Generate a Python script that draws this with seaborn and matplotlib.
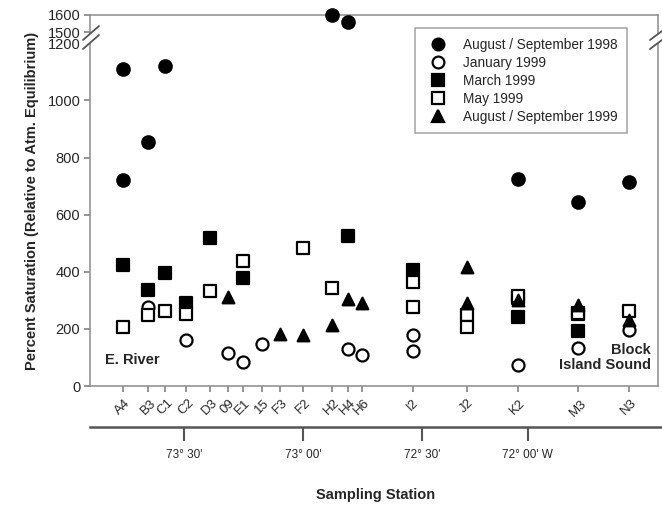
import numpy as np
import pandas as pd
import seaborn as sns
import matplotlib.pyplot as plt
from matplotlib.lines import Line2D
from matplotlib.patches import Polygon

# sampling stations, west to east, with approximate longitude (deg W)
stations = ["A4", "B3", "C1", "C2", "D3", "09", "E1", "15", "F3", "F2",
            "H2", "H4", "H6", "I2", "J2", "K2", "M3", "N3"]
station_lon = [73.758, 73.650, 73.580, 73.492, 73.391, 73.315, 73.252, 73.172, 73.097, 73.000,
               72.878, 72.811, 72.752, 72.538, 72.311, 72.097, 71.845, 71.630]

# percent saturation for each survey
aug98_stn = ["A4", "A4", "B3", "C1", "H2", "H4", "K2", "M3", "N3"]
aug98_val = [1110, 720, 855, 1120, 1600, 1560, 725, 645, 715]

jan99_stn = ["B3", "C2", "09", "E1", "15", "H4", "H6", "I2", "I2", "K2", "M3", "N3"]
jan99_val = [277, 160, 115, 85, 146, 130, 110, 180, 122, 72, 134, 196]

mar99_stn = ["A4", "B3", "C1", "C2", "D3", "E1", "H4", "I2", "K2", "K2", "M3", "M3"]
mar99_val = [422, 336, 397, 289, 517, 379, 525, 406, 308, 240, 252, 192]

may99_stn = ["A4", "B3", "C1", "C2", "D3", "E1", "F2", "H2", "I2", "I2", "J2", "J2",
             "K2", "M3", "N3"]
may99_val = [205, 248, 263, 251, 333, 439, 482, 342, 365, 275, 248, 205, 314, 256, 262]

aug99_stn = ["09", "F3", "F2", "H2", "H4", "H6", "J2", "J2", "K2", "M3", "N3"]
aug99_val = [312, 181, 177, 213, 303, 289, 418, 289, 302, 283, 230]

lon_ticks = [73.5, 73.0, 72.5, 72.055]
lon_labels = ["73° 30'", "73° 00'", "72° 30'", "72° 00' W"]


def fwd(y):
    y = np.asarray(y, dtype=float)
    return np.where(y <= 1200, y,
                    np.where(y <= 1500, 1200 + (y - 1200) * 0.13, 1239 + (y - 1500) * 0.6))


def inv(f):
    f = np.asarray(f, dtype=float)
    return np.where(f <= 1200, f,
                    np.where(f <= 1239, 1200 + (f - 1200) / 0.13, 1500 + (f - 1239) / 0.6))


sns.set_theme(style="ticks")
plt.rcParams['font.family'] = ['Liberation Sans', 'DejaVu Sans']

W, H = 662, 508
fig = plt.figure(figsize=(W / 100, H / 100), dpi=100)


def px(x, y):
    return (x / W, 1 - y / H)


ax = fig.add_axes([90 / W, 1 - 386 / H, 568 / W, 371 / H])
ax.set_yscale('function', functions=(fwd, inv))

lon_of = dict(zip(stations, station_lon))
surveys = [
    ("August / September 1998", aug98_stn, aug98_val, "o", "black", 80),
    ("January 1999", jan99_stn, jan99_val, "o", "white", 75),
    ("March 1999", mar99_stn, mar99_val, "s", "black", 64),
    ("May 1999", may99_stn, may99_val, "s", "white", 64),
    ("August / September 1999", aug99_stn, aug99_val, "^", "black", 70),
]

handles = []
for name, stn, val, mk, face, size in surveys:
    df = pd.DataFrame({"lon": [lon_of[s] for s in stn], "value": val})
    sns.scatterplot(data=df, x="lon", y="value", marker=mk, s=size, color=face,
                    edgecolor="black", linewidth=1.6, ax=ax, zorder=3, clip_on=False)
    handles.append(Line2D([], [], linestyle="none", marker=mk, markersize=8.5,
                          markerfacecolor=face, markeredgecolor="black",
                          markeredgewidth=1.6, label=name))

ax.set_xlim(73.895, 71.508)
ax.set_ylim(0, 1600)
ax.set_yticks([0, 200, 400, 600, 800, 1000, 1200, 1500, 1600])
ax.set_yticklabels(["0", "200", "400", "600", "800", "1000", "1200", "1500", "1600"])
ax.set_xticks(station_lon)
ax.set_xticklabels(stations, rotation=45, fontsize=9.5)
ax.tick_params(axis="y", labelsize=10.5, length=4, color="#888888", pad=3)
ax.tick_params(axis="x", length=4, color="#888888", pad=4)
for sp in ax.spines.values():
    sp.set_visible(True)
    sp.set_color("#8c8c8c")
    sp.set_linewidth(1.1)
ax.set_xlabel("")
ax.set_ylabel("Percent Saturation (Relative to Atm. Equilibrium)", fontsize=10.5,
              fontweight="bold", labelpad=6)

ax.text(0.027, 0.06, "E. River", transform=ax.transAxes, fontsize=10.5, fontweight="bold")
ax.text(0.988, 0.045, "Block\nIsland Sound", transform=ax.transAxes, fontsize=10.5,
        fontweight="bold", ha="right", linespacing=1.1)

leg = ax.legend(handles=handles, loc="upper left", bbox_to_anchor=px(415, 28),
                bbox_transform=fig.transFigure, frameon=True, fancybox=False,
                fontsize=9.8, labelspacing=0.3, handletextpad=0.8, borderpad=0.7,
                borderaxespad=0)
leg.get_frame().set_edgecolor("#8c8c8c")
leg.get_frame().set_linewidth(1.1)

# axis break marks
for (x0, y0, x1, y1) in [(83, 40, 99, 26), (650, 40, 662, 31)]:
    gap = Polygon([px(x0, y0), px(x1, y1), px(x1, y1 + 9), px(x0, y0 + 9)],
                  closed=True, transform=fig.transFigure, facecolor="white",
                  edgecolor="none", zorder=5)
    fig.add_artist(gap)
    for dy in (0, 9):
        fig.add_artist(Line2D([x0 / W, x1 / W], [1 - (y0 + dy) / H, 1 - (y1 + dy) / H],
                              transform=fig.transFigure, color="#555555", lw=1.3, zorder=6))

# longitude scale below the station axis
ax2 = fig.add_axes([90 / W, 1 - 427 / H, 572 / W, 0.001])
ax2.set_xlim(73.895, 73.895 - (ax.get_xlim()[0] - ax.get_xlim()[1]) * 572 / 568)
ax2.set_yticks([])
for side in ("top", "left", "right"):
    ax2.spines[side].set_visible(False)
ax2.spines["bottom"].set_color("#555555")
ax2.spines["bottom"].set_linewidth(1.8)
ax2.set_xticks(lon_ticks)
ax2.set_xticklabels(lon_labels, fontsize=8.5)
ax2.tick_params(axis="x", direction="out", length=10, width=1.5, color="#555555", pad=6)
ax2.set_xlabel("Sampling Station", fontsize=10.5, fontweight="bold", labelpad=19)

fig.savefig("out.png", dpi=100)
